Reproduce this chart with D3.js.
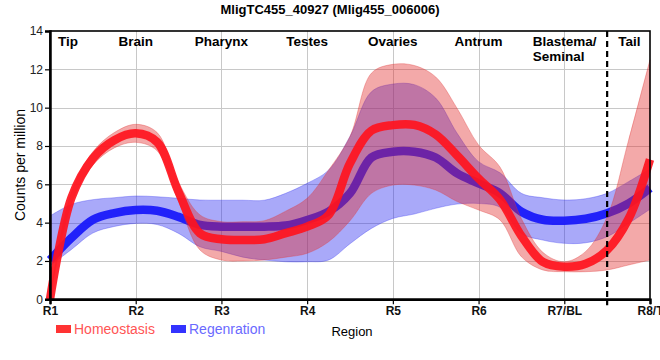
<!DOCTYPE html>
<html><head><meta charset="utf-8">
<script src="https://cdn.jsdelivr.net/npm/d3@7/dist/d3.min.js"></script>
<style>
html,body{margin:0;padding:0;background:#fff;}
svg{display:block;font-family:"Liberation Sans",Arial,sans-serif;}
</style></head>
<body><svg id="chart" width="660" height="360"></svg>
<script>
// ---- data ----
const regions = ["R1","R2","R3","R4","R5","R6","R7/BL","R8/T"];
const regionIdx = [1,2,3,4,5,6,7,8];
const yTicks = [0,2,4,6,8,10,12,14];
const tissueLabels = ["Tip","Brain","Pharynx","Testes","Ovaries","Antrum","Blastema/\nSeminal","Tail"];
const tissuePos = [1.21,2,3,4,5,6,7,7.76];
const dividerPos = 7.5;
const seriesNames = ["Homeostasis","Regenration"];

const pos = [1,1.25,1.5,1.75,2,2.25,2.5,2.75,3,3.25,3.5,3.75,4,4.25,4.5,4.75,5,5.25,5.5,5.75,6,6.25,6.5,6.75,7,7.25,7.5,7.75,8];

const homeoMean = [0,5.3,7.35,8.3,8.66,8.2,5.6,3.44,3.13,3.1,3.13,3.45,3.79,4.4,7.1,8.8,9.09,9.1,8.6,7.5,6.3,5.2,3.3,1.95,1.7,1.85,2.57,4.2,7.3];
const homeoHigh = [0.2,5.6,7.7,8.7,9.13,8.7,6.1,4.4,4.05,4.05,4.1,4.6,5.27,6.74,8.5,11.8,12.26,12.2,11.6,9.96,8.05,6.9,4.2,2.45,1.96,2.5,4.3,8.3,12.5];
const homeoLow  = [0,5.0,7.0,7.9,8.19,7.75,5.1,2.57,2.05,2.0,2.05,2.2,2.4,3.0,4.1,5.53,5.96,5.96,5.7,5.1,4.66,4.14,2.22,1.53,1.44,1.44,1.53,1.79,2.05];

const regenMean = [2.05,3.2,4.15,4.5,4.66,4.62,4.3,3.88,3.79,3.79,3.79,3.85,4.14,4.57,5.53,7.4,7.7,7.7,7.4,6.57,6.05,5.53,4.57,4.15,4.1,4.2,4.49,5.0,5.8];
const regenHigh = [4.35,4.95,5.2,5.3,5.39,5.35,5.27,5.18,5.17,5.17,5.17,5.53,6.05,6.74,8.5,10.83,11.23,11.2,10.5,8.66,7.18,6.6,5.53,5.3,5.18,5.25,5.53,6.14,6.8];
const regenLow  = [1.75,2.6,3.46,3.8,3.96,3.9,3.44,2.74,2.5,2.2,2.05,1.96,1.96,2.05,2.9,3.7,4.22,4.45,4.75,4.97,5.0,4.8,3.44,3.09,2.92,2.95,3.27,3.96,4.7];

// ---- layout ----
const svg = d3.select("#chart");
const L = 50, R = 650, T = 31, B = 299.3;
const x = d3.scaleLinear().domain([1,8]).range([L,R]);
const y = d3.scaleLinear().domain([0,14]).range([B,T]);

// title
svg.append("text").attr("x",330).attr("y",14).attr("text-anchor","middle")
  .attr("font-size","13px").attr("font-weight","bold").attr("fill","#000")
  .text("MligTC455_40927 (Mlig455_006006)");

// grid
const grid = svg.append("g").attr("stroke","#c8c8c8").attr("stroke-width",1);
grid.selectAll("line.h").data(yTicks.filter(d=>d>0&&d<14)).join("line")
  .attr("x1",L).attr("x2",R).attr("y1",d=>Math.round(y(d))+0.5).attr("y2",d=>Math.round(y(d))+0.5);
grid.selectAll("line.v").data(regionIdx.filter(d=>d>1&&d<8)).join("line")
  .attr("y1",T).attr("y2",B).attr("x1",d=>Math.round(x(d))+0.5).attr("x2",d=>Math.round(x(d))+0.5);

// clip
svg.append("clipPath").attr("id","clip").append("rect")
  .attr("x",L-8).attr("y",T).attr("width",R-L+14).attr("height",B-T+1);

const plot = svg.append("g").attr("clip-path","url(#clip)");
const curve = d3.curveCatmullRom.alpha(0.5);
const area = (hi,lo) => d3.area().curve(curve).x((d,i)=>x(pos[i])).y0((d,i)=>y(lo[i])).y1((d,i)=>y(hi[i]))(pos);
const line = (m) => d3.line().curve(curve).x((d,i)=>x(pos[i])).y((d,i)=>y(m[i]))(pos);

plot.append("path").attr("d",area(regenHigh,regenLow))
  .attr("fill","rgb(40,40,240)").attr("fill-opacity",0.4)
  .attr("stroke","rgb(60,60,240)").attr("stroke-opacity",0.35).attr("stroke-width",1);
plot.append("path").attr("d",line(regenMean))
  .attr("fill","none").attr("stroke","rgb(25,25,250)").attr("stroke-width",8.5).attr("stroke-opacity",0.95);
plot.append("path").attr("d",area(homeoHigh,homeoLow))
  .attr("fill","rgb(225,40,40)").attr("fill-opacity",0.4)
  .attr("stroke","rgb(225,60,60)").attr("stroke-opacity",0.35).attr("stroke-width",1);
plot.append("path").attr("d",line(homeoMean))
  .attr("fill","none").attr("stroke","rgb(255,20,30)").attr("stroke-width",8.5).attr("stroke-opacity",0.92);

// frame
svg.append("rect").attr("x",L).attr("y",T).attr("width",R-L).attr("height",B-T)
  .attr("fill","none").attr("stroke","#000").attr("stroke-width",1.6);

// axes
const yAxis = d3.axisLeft(y).tickValues(yTicks).tickSize(5).tickPadding(2);
const gy = svg.append("g").attr("transform",`translate(${L},0)`).call(yAxis);
gy.select(".domain").attr("stroke","#000").attr("stroke-width",2.5);
gy.selectAll(".tick line").attr("stroke","#000").attr("stroke-width",1.2);
gy.selectAll(".tick text").attr("font-size","12px").attr("fill","#222")
  .attr("font-family","'Liberation Sans',Arial,sans-serif");

const xAxis = d3.axisBottom(x).tickValues(regionIdx).tickFormat((d,i)=>regions[i]).tickSize(5).tickPadding(2);
const gx = svg.append("g").attr("transform",`translate(0,${B})`).call(xAxis);
gx.select(".domain").attr("stroke","#000").attr("stroke-width",2.5);
gx.selectAll(".tick line").attr("stroke","#000").attr("stroke-width",1.2);
gx.selectAll(".tick text").attr("font-size","12px").attr("font-weight","bold").attr("fill","#111")
  .attr("font-family","'Liberation Sans',Arial,sans-serif");

// divider
svg.append("line").attr("x1",x(dividerPos)).attr("x2",x(dividerPos)).attr("y1",T).attr("y2",B+6)
  .attr("stroke","#000").attr("stroke-width",2.2).attr("stroke-dasharray","6,4");

// tissue labels
tissueLabels.forEach((lab,i)=>{
  const lines = lab.split("\n");
  const t = svg.append("text").attr("font-size","13.5px").attr("font-weight","bold").attr("fill","#000")
    .attr("text-anchor", lines.length>1 ? "start" : "middle");
  if(lines.length>1){
    const w = 63;
    lines.forEach((s,j)=>t.append("tspan").attr("x",x(tissuePos[i])-w/2).attr("y",46+j*15).text(s));
  } else {
    t.attr("x",x(tissuePos[i])).attr("y",46).text(lab);
  }
});

// y title
svg.append("text").attr("transform","translate(25,165) rotate(-90)").attr("text-anchor","middle")
  .attr("font-size","14px").attr("fill","#000").text("Counts per million");

// legend
const legColors = ["#ff3333","#3333ff"];
const legText = ["#ff5555","#6a6aff"];
const legX = [56,171];
seriesNames.forEach((n,i)=>{
  svg.append("rect").attr("x",legX[i]).attr("y",325).attr("width",15).attr("height",8).attr("fill",legColors[i]);
  svg.append("text").attr("x",legX[i]+18).attr("y",334).attr("font-size","14px").attr("fill",legText[i]).text(n);
});
svg.append("text").attr("x",352).attr("y",336).attr("text-anchor","middle").attr("font-size","13px").attr("fill","#000").text("Region");
</script></body></html>
